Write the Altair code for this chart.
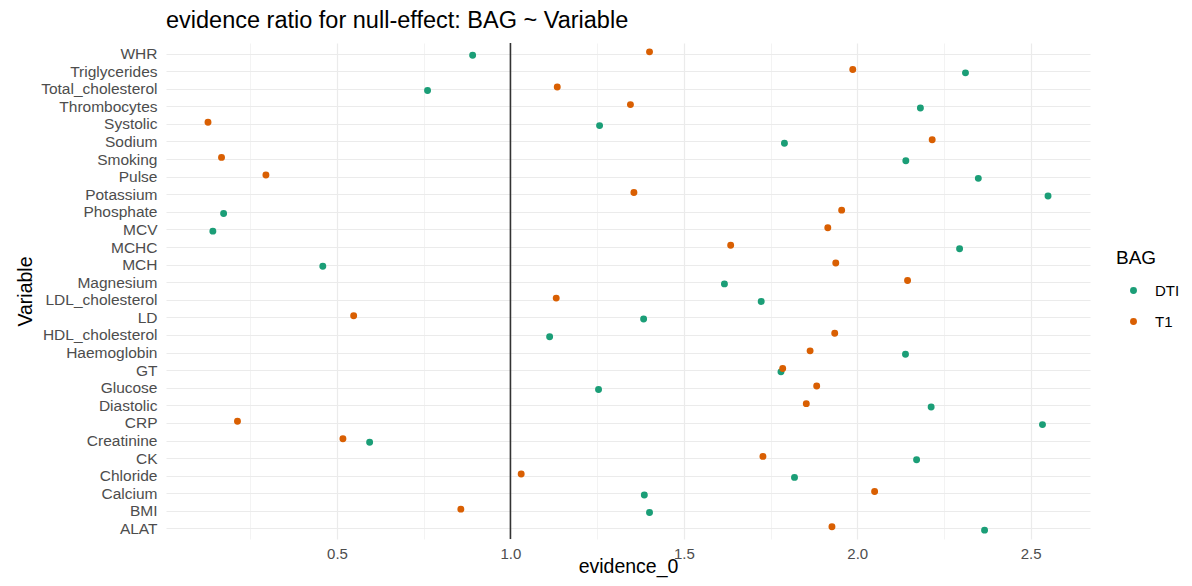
import altair as alt
import pandas as pd

variables = ["WHR", "Triglycerides", "Total_cholesterol", "Thrombocytes", "Systolic",
             "Sodium", "Smoking", "Pulse", "Potassium", "Phosphate", "MCV", "MCHC",
             "MCH", "Magnesium", "LDL_cholesterol", "LD", "HDL_cholesterol",
             "Haemoglobin", "GT", "Glucose", "Diastolic", "CRP", "Creatinine", "CK",
             "Chloride", "Calcium", "BMI", "ALAT"]
dti = [0.891, 2.312, 0.761, 2.182, 1.257, 1.790, 2.140, 2.349, 2.550, 0.173, 0.142, 2.295,
       0.459, 1.617, 1.723, 1.384, 1.113, 2.139, 1.780, 1.254, 2.213, 2.534, 0.594, 2.171,
       1.819, 1.386, 1.401, 2.367]
t1 = [1.401, 1.987, 1.135, 1.346, 0.128, 2.216, 0.167, 0.295, 1.356, 1.955, 1.915, 1.635,
      1.938, 2.145, 1.132, 0.548, 1.935, 1.864, 1.785, 1.883, 1.853, 0.213, 0.517, 1.728,
      1.031, 2.050, 0.857, 1.927]
groups = ["DTI", "T1"]
colors = ["#1b9e77", "#d95f02"]
x_ticks = [0.25, 0.5, 0.75, 1.0, 1.25, 1.5, 1.75, 2.0, 2.25, 2.5]
null_line = [1.0]

rows = []
for v, a, b in zip(variables, dti, t1):
    rows.append({"Variable": v, "BAG": "DTI", "evidence_0": a})
    rows.append({"Variable": v, "BAG": "T1", "evidence_0": b})
df = pd.DataFrame(rows)

FONT = "Liberation Sans"

x_enc = alt.X(
    "evidence_0:Q",
    title="evidence_0",
    scale=alt.Scale(domain=[0.0069, 2.671], nice=False, zero=False),
    axis=alt.Axis(
        values=x_ticks,
        labelExpr="datum.value % 0.5 == 0 ? format(datum.value, '.1f') : ''",
        grid=True,
        gridColor="#ebebeb",
        gridWidth={"condition": {"test": "datum.value % 0.5 != 0", "value": 0.6}, "value": 1.2},
        domain=False,
        ticks=False,
        labelFontSize=15,
        labelColor="#4d4d4d",
        labelPadding=7,
        titleFontSize=19.5,
        titleFontWeight="normal",
        titleColor="#000000",
        titleBaseline="alphabetic",
        titleY=33,
    ),
)

y_enc = alt.Y(
    "Variable:N",
    title="Variable",
    sort=variables,
    scale=alt.Scale(type="point", padding=0.6),
    axis=alt.Axis(
        grid=True,
        gridColor="#ebebeb",
        gridWidth=1.2,
        domain=False,
        ticks=False,
        labelFontSize=15.5,
        labelColor="#4d4d4d",
        labelPadding=9,
        titleFontSize=19.5,
        titleFontWeight="normal",
        titleColor="#000000",
        titlePadding=5,
    ),
)

points = alt.Chart(df).mark_circle(
    size=48, opacity=1, yOffset=alt.expr("datum.BAG == 'DTI' ? 1.7 : -1.7")
).encode(
    x=x_enc,
    y=y_enc,
    color=alt.Color(
        "BAG:N",
        scale=alt.Scale(domain=groups, range=colors),
        legend=alt.Legend(
            title="BAG",
            orient="none",
            legendX=950,
            legendY=206,
            titleFontSize=19,
            titleFontWeight="normal",
            titleColor="#000000",
            titlePadding=15,
            labelFontSize=15,
            labelColor="#000000",
            labelOffset=14,
            symbolType="circle",
            symbolSize=48,
            symbolOffset=10,
            rowPadding=15,
        ),
    ),
)

rule = alt.Chart(pd.DataFrame({"x": null_line})).mark_rule(
    color="#333333", strokeWidth=1.6
).encode(x=alt.X("x:Q"))

chart = alt.layer(rule, points).properties(
    width=924,
    height=496,
    title=alt.TitleParams(
        "evidence ratio for null-effect: BAG ~ Variable",
        anchor="start",
        frame="group",
        fontSize=23.5,
        fontWeight="normal",
        color="#000000",
        offset=10,
    ),
    autosize=alt.AutoSizeParams(type="none"),
    padding={"left": 158, "top": 35, "right": 94, "bottom": 39},
).configure(
    font=FONT,
).configure_view(
    stroke=None
)

chart.save("out.html", embed_options={"renderer": "svg", "actions": False})
